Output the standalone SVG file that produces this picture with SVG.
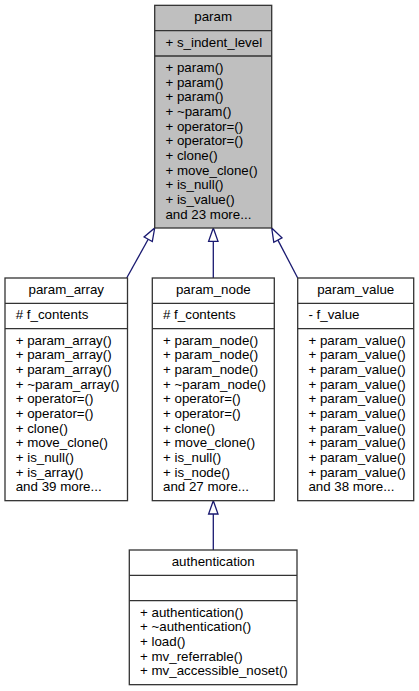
<svg xmlns="http://www.w3.org/2000/svg" width="419" height="691" viewBox="0 0 419 691">
<style>
.box{fill:#ffffff;stroke:#333333;stroke-width:1.3}
.base{fill:#bfbfbf;stroke:#333333;stroke-width:1.3}
.sep{stroke:#333333;stroke-width:1.3}
text{font-family:"Liberation Sans",Arial,Helvetica,sans-serif;font-size:13.33px;fill:#000000}
.t{text-anchor:middle}
.edge{stroke:#191970;stroke-width:1.3;fill:none}
.head{stroke:#191970;stroke-width:1.3;fill:#ffffff}
</style>
<rect width="419" height="691" fill="#ffffff"/>
<g id="connectors">
<line class="edge" x1="126.7" y1="278" x2="148.2" y2="239.3"/>
<polygon class="head" points="154.7,228 152.3,241.6 144.1,237"/>
<line class="edge" x1="213.3" y1="278" x2="213.3" y2="241.3"/>
<polygon class="head" points="213.3,228 218,241.3 208.6,241.3"/>
<line class="edge" x1="297.7" y1="278" x2="277.9" y2="240.1"/>
<polygon class="head" points="271.7,228 282,237.9 273.8,242.3"/>
<line class="edge" x1="213.3" y1="550" x2="213.3" y2="514"/>
<polygon class="head" points="213.3,500.7 218,514 208.6,514"/>
</g>
<g id="param">
<rect class="base" x="154.7" y="5.33" width="117" height="222.67"/>
<line class="sep" x1="154.7" y1="30.67" x2="271.7" y2="30.67"/>
<line class="sep" x1="154.7" y1="56" x2="271.7" y2="56"/>
<text class="t" x="213.2" y="21.33">param</text>
<text x="165.4" y="46.67">+ s_indent_level</text>
<text>
<tspan x="165.4" y="72">+ param()</tspan>
<tspan x="165.4" y="86.67">+ param()</tspan>
<tspan x="165.4" y="101.33">+ param()</tspan>
<tspan x="165.4" y="116">+ ~param()</tspan>
<tspan x="165.4" y="130.67">+ operator=()</tspan>
<tspan x="165.4" y="145.33">+ operator=()</tspan>
<tspan x="165.4" y="160">+ clone()</tspan>
<tspan x="165.4" y="174.67">+ move_clone()</tspan>
<tspan x="165.4" y="189.33">+ is_null()</tspan>
<tspan x="165.4" y="204">+ is_value()</tspan>
<tspan x="165.4" y="218.67">and 23 more...</tspan>
</text>
</g>
<g id="param_array">
<rect class="box" x="5" y="278" width="122.5" height="222.67"/>
<line class="sep" x1="5" y1="303.33" x2="127.5" y2="303.33"/>
<line class="sep" x1="5" y1="328.67" x2="127.5" y2="328.67"/>
<text class="t" x="66.25" y="294">param_array</text>
<text x="15.7" y="319.33"># f_contents</text>
<text>
<tspan x="15.7" y="344.67">+ param_array()</tspan>
<tspan x="15.7" y="359.33">+ param_array()</tspan>
<tspan x="15.7" y="374">+ param_array()</tspan>
<tspan x="15.7" y="388.67">+ ~param_array()</tspan>
<tspan x="15.7" y="403.33">+ operator=()</tspan>
<tspan x="15.7" y="418">+ operator=()</tspan>
<tspan x="15.7" y="432.67">+ clone()</tspan>
<tspan x="15.7" y="447.33">+ move_clone()</tspan>
<tspan x="15.7" y="462">+ is_null()</tspan>
<tspan x="15.7" y="476.67">+ is_array()</tspan>
<tspan x="15.7" y="491.33">and 39 more...</tspan>
</text>
</g>
<g id="param_node">
<rect class="box" x="152.3" y="278" width="122" height="222.67"/>
<line class="sep" x1="152.3" y1="303.33" x2="274.3" y2="303.33"/>
<line class="sep" x1="152.3" y1="328.67" x2="274.3" y2="328.67"/>
<text class="t" x="213.3" y="294">param_node</text>
<text x="163" y="319.33"># f_contents</text>
<text>
<tspan x="163" y="344.67">+ param_node()</tspan>
<tspan x="163" y="359.33">+ param_node()</tspan>
<tspan x="163" y="374">+ param_node()</tspan>
<tspan x="163" y="388.67">+ ~param_node()</tspan>
<tspan x="163" y="403.33">+ operator=()</tspan>
<tspan x="163" y="418">+ operator=()</tspan>
<tspan x="163" y="432.67">+ clone()</tspan>
<tspan x="163" y="447.33">+ move_clone()</tspan>
<tspan x="163" y="462">+ is_null()</tspan>
<tspan x="163" y="476.67">+ is_node()</tspan>
<tspan x="163" y="491.33">and 27 more...</tspan>
</text>
</g>
<g id="param_value">
<rect class="box" x="297.7" y="278" width="116" height="222.67"/>
<line class="sep" x1="297.7" y1="303.33" x2="413.7" y2="303.33"/>
<line class="sep" x1="297.7" y1="328.67" x2="413.7" y2="328.67"/>
<text class="t" x="355.7" y="294">param_value</text>
<text x="308.4" y="319.33">- f_value</text>
<text>
<tspan x="308.4" y="344.67">+ param_value()</tspan>
<tspan x="308.4" y="359.33">+ param_value()</tspan>
<tspan x="308.4" y="374">+ param_value()</tspan>
<tspan x="308.4" y="388.67">+ param_value()</tspan>
<tspan x="308.4" y="403.33">+ param_value()</tspan>
<tspan x="308.4" y="418">+ param_value()</tspan>
<tspan x="308.4" y="432.67">+ param_value()</tspan>
<tspan x="308.4" y="447.33">+ param_value()</tspan>
<tspan x="308.4" y="462">+ param_value()</tspan>
<tspan x="308.4" y="476.67">+ param_value()</tspan>
<tspan x="308.4" y="491.33">and 38 more...</tspan>
</text>
</g>
<g id="authentication">
<rect class="box" x="129.3" y="550" width="167.7" height="134.67"/>
<line class="sep" x1="129.3" y1="575.33" x2="297" y2="575.33"/>
<line class="sep" x1="129.3" y1="600.67" x2="297" y2="600.67"/>
<text class="t" x="213.2" y="566">authentication</text>
<text>
<tspan x="140" y="616.67">+ authentication()</tspan>
<tspan x="140" y="631.33">+ ~authentication()</tspan>
<tspan x="140" y="646">+ load()</tspan>
<tspan x="140" y="660.67">+ mv_referrable()</tspan>
<tspan x="140" y="675.33">+ mv_accessible_noset()</tspan>
</text>
</g>
</svg>
